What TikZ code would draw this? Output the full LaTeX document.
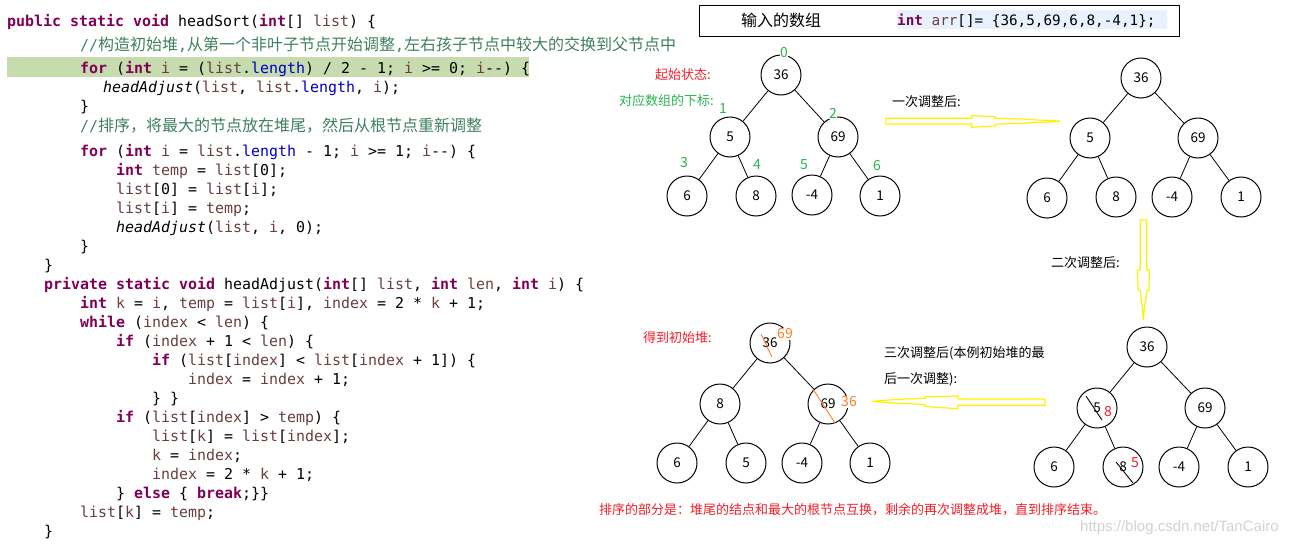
\documentclass[tikz,border=0pt]{standalone}
\usepackage{fontspec}
\setmonofont{DejaVu Sans Mono}
\newfontfamily\cjk{Noto Sans CJK SC}
\newfontfamily\wmfont{Liberation Sans}
\definecolor{kwc}{HTML}{7F0055}
\definecolor{varc}{HTML}{6A3E3E}
\definecolor{fldc}{HTML}{0000C0}
\definecolor{cmtc}{HTML}{3F7F5F}
\definecolor{hlg}{RGB}{198,219,174}
\definecolor{hlb}{HTML}{E8F2FE}
\definecolor{idxg}{RGB}{40,180,80}
\definecolor{redc}{RGB}{240,30,40}
\definecolor{orac}{RGB}{255,127,39}
\newcommand\ckw[1]{\textcolor{kwc}{\bfseries #1}}
\newcommand\cvr[1]{\textcolor{varc}{#1}}
\newcommand\cfd[1]{\textcolor{fldc}{#1}}
\newcommand\cz[1]{{\cjk\fontsize{16}{16}\selectfont #1}}
\begin{document}
\begin{tikzpicture}[x=1pt,y=-1pt,
  code/.style={anchor=base west, inner sep=0pt, font=\ttfamily\fontsize{14.95}{18}\selectfont},
  hc/.style={circle, draw, line width=1pt, minimum size=40pt, inner sep=0pt, font=\cjk\fontsize{13.5}{14}\selectfont},
  tedge/.style={line width=0.8pt},
  idx/.style={text=idxg, fill=white, inner sep=0.6pt, font=\cjk\fontsize{14}{14}\selectfont},
  lbl/.style={anchor=west, inner sep=0pt, font=\cjk\fontsize{13}{13}\selectfont},
  ovl/.style={fill=white, inner sep=0.8pt, font=\cjk\fontsize{14}{14}\selectfont},
  yarrow/.style={draw=yellow, line width=1.2pt, line join=miter},
  strike/.style={line width=0.9pt}
]
\useasboundingbox (0,0) rectangle (1300,546);

% ---------- code ----------
\fill[hlg] (7,57) rectangle (529,77);
\node[code] (l1) at (7,26) {\ckw{public static void} headSort(\ckw{int}[] \cvr{list}) \{};
\node[code] (l2) at (80,50) {\color{cmtc}//\cz{构造初始堆},\cz{从第一个非叶子节点开始调整},\cz{左右孩子节点中较大的交换到父节点中}};
\node[code] (l3) at (80,73) {\ckw{for} (\ckw{int} \cvr{i} = (\cvr{list}.\cfd{length}) / 2 - 1; \cvr{i} >= 0; \cvr{i}--) \{};
\node[code] (l4) at (103,92) {\textit{headAdjust}(\cvr{list}, \cvr{list}.\cfd{length}, \cvr{i});};
\node[code] (l5) at (80,111) {\}};
\node[code] (l6) at (80,131) {\color{cmtc}//\cz{排序，将最大的节点放在堆尾，然后从根节点重新调整}};
\node[code] (l7) at (80,156) {\ckw{for} (\ckw{int} \cvr{i} = \cvr{list}.\cfd{length} - 1; \cvr{i} >= 1; \cvr{i}--) \{};
\node[code] (l8) at (116,175) {\ckw{int} \cvr{temp} = \cvr{list}[0];};
\node[code] (l9) at (116,194) {\cvr{list}[0] = \cvr{list}[\cvr{i}];};
\node[code] (l10) at (116,213) {\cvr{list}[\cvr{i}] = \cvr{temp};};
\node[code] (l11) at (116,232) {\textit{headAdjust}(\cvr{list}, \cvr{i}, 0);};
\node[code] (l12) at (80,251) {\}};
\node[code] (l13) at (44,270) {\}};
\node[code] (l14) at (44,289) {\ckw{private static void} headAdjust(\ckw{int}[] \cvr{list}, \ckw{int} \cvr{len}, \ckw{int} \cvr{i}) \{};
\node[code] (l15) at (80,308) {\ckw{int} \cvr{k} = \cvr{i}, \cvr{temp} = \cvr{list}[\cvr{i}], \cvr{index} = 2 * \cvr{k} + 1;};
\node[code] (l16) at (80,327) {\ckw{while} (\cvr{index} < \cvr{len}) \{};
\node[code] (l17) at (116,346) {\ckw{if} (\cvr{index} + 1 < \cvr{len}) \{};
\node[code] (l18) at (152,365) {\ckw{if} (\cvr{list}[\cvr{index}] < \cvr{list}[\cvr{index} + 1]) \{};
\node[code] (l19) at (188,384) {\cvr{index} = \cvr{index} + 1;};
\node[code] (l20) at (152,403) {\} \}};
\node[code] (l21) at (116,422) {\ckw{if} (\cvr{list}[\cvr{index}] > \cvr{temp}) \{};
\node[code] (l22) at (152,441) {\cvr{list}[\cvr{k}] = \cvr{list}[\cvr{index}];};
\node[code] (l23) at (152,460) {\cvr{k} = \cvr{index};};
\node[code] (l24) at (152,479) {\cvr{index} = 2 * \cvr{k} + 1;};
\node[code] (l25) at (116,498) {\} \ckw{else} \{ \ckw{break};\}\}};
\node[code] (l26) at (80,517) {\cvr{list}[\cvr{k}] = \cvr{temp};};
\node[code] (l27) at (44,536) {\}};

% ---------- input box ----------
\node[draw, line width=1pt, minimum width=480pt, minimum height=31pt, anchor=north west, inner sep=0pt] (box) at (699,5) {};
\node[lbl, font=\cjk\fontsize{16}{16}\selectfont] (inlbl) at (741,20) {输入的数组};
\fill[hlb] (897,10) rectangle (1167,29);
\node[code, font=\ttfamily\fontsize{14.3}{17}\selectfont] (arr) at (897,25) {\ckw{int} \cvr{arr}[]= \{36,5,69,6,8,-4,1\};};

% ---------- labels ----------
\node[lbl, text=redc] (t1) at (655,75) {起始状态:};
\node[lbl, text=idxg] (t2) at (619,101) {对应数组的下标:};
\node[lbl] (t3) at (892,102) {一次调整后:};
\node[lbl] (t4) at (1051,263) {二次调整后:};
\node[lbl] (t5) at (884,353) {三次调整后(本例初始堆的最};
\node[lbl] (t6) at (884,379) {后一次调整):};
\node[lbl, text=redc] (t7) at (643,338) {得到初始堆:};
\node[lbl, text=redc] (t8) at (599,510) {排序的部分是：堆尾的结点和最大的根节点互换，剩余的再次调整成堆，直到排序结束。};
\node[anchor=west, inner sep=0pt, text=black!18, font=\wmfont\fontsize{15}{15}\selectfont] (wm) at (1080,528) {https://blog.csdn.net/TanCairo};

% ---------- tree A (start) ----------
\node[hc] (a0) at (781,75) {36};
\node[hc] (a1) at (730,137) {5};
\node[hc] (a2) at (838,137) {69};
\node[hc] (a3) at (687,196) {6};
\node[hc] (a4) at (756,196) {8};
\node[hc] (a5) at (812,195) {-4};
\node[hc] (a6) at (880,196) {1};
\draw[tedge] (a0) -- (a1);
\draw[tedge] (a0) -- (a2);
\draw[tedge] (a1) -- (a3);
\draw[tedge] (a1) -- (a4);
\draw[tedge] (a2) -- (a5);
\draw[tedge] (a2) -- (a6);
\node[idx] (i0) at (784,53) {0};
\node[idx] (i1) at (723,109) {1};
\node[idx] (i2) at (833,113) {2};
\node[idx] (i3) at (684,163) {3};
\node[idx] (i4) at (757,165) {4};
\node[idx] (i5) at (804,165) {5};
\node[idx] (i6) at (877,166) {6};

% ---------- tree B (first adjustment) ----------
\node[hc] (b0) at (1141,78) {36};
\node[hc] (b1) at (1090,138) {5};
\node[hc] (b2) at (1198,138) {69};
\node[hc] (b3) at (1047,198) {6};
\node[hc] (b4) at (1116,197) {8};
\node[hc] (b5) at (1172,197) {-4};
\node[hc] (b6) at (1241,197) {1};
\draw[tedge] (b0) -- (b1);
\draw[tedge] (b0) -- (b2);
\draw[tedge] (b1) -- (b3);
\draw[tedge] (b1) -- (b4);
\draw[tedge] (b2) -- (b5);
\draw[tedge] (b2) -- (b6);

% ---------- tree C (third adjustment) ----------
\node[hc] (c0) at (1147,347) {36};
\node[hc] (c1) at (1097,408) {5};
\node[hc] (c2) at (1205,408) {69};
\node[hc] (c3) at (1054,467) {6};
\node[hc] (c4) at (1123,467) {8};
\node[hc] (c5) at (1179,467) {-4};
\node[hc] (c6) at (1248,467) {1};
\draw[tedge] (c0) -- (c1);
\draw[tedge] (c0) -- (c2);
\draw[tedge] (c1) -- (c3);
\draw[tedge] (c1) -- (c4);
\draw[tedge] (c2) -- (c5);
\draw[tedge] (c2) -- (c6);
\coordinate (sc1a) at (1086,396); \coordinate (sc1b) at (1102,420);
\coordinate (sc4a) at (1116,462); \coordinate (sc4b) at (1133,483);
\draw[strike] (sc1a) -- (sc1b);
\draw[strike] (sc4a) -- (sc4b);
\node[ovl, text=redc] (oc1) at (1108,412) {8};
\node[ovl, text=redc] (oc4) at (1135,463) {5};

% ---------- tree D (initial heap) ----------
\node[hc] (d0) at (770,343) {36};
\node[hc] (d1) at (720,404) {8};
\node[hc] (d2) at (828,404) {69};
\node[hc] (d3) at (677,463) {6};
\node[hc] (d4) at (746,463) {5};
\node[hc] (d5) at (802,463) {-4};
\node[hc] (d6) at (870,463) {1};
\draw[tedge] (d0) -- (d1);
\draw[tedge] (d0) -- (d2);
\draw[tedge] (d1) -- (d3);
\draw[tedge] (d1) -- (d4);
\draw[tedge] (d2) -- (d5);
\draw[tedge] (d2) -- (d6);
\coordinate (sd0a) at (761,334); \coordinate (sd0b) at (772,357);
\coordinate (sd2a) at (813,389); \coordinate (sd2b) at (835,423);
\draw[strike, orac] (sd0a) -- (sd0b);
\draw[strike, orac] (sd2a) -- (sd2b);
\node[ovl, text=orac] (od0) at (785,334) {69};
\node[ovl, text=orac] (od2) at (849,402) {36};

% ---------- yellow hollow arrows ----------
\draw[yarrow] (886,118.3) -- (971.7,118.3) -- (971.7,115.7) -- (995,116.7) -- (995,118.3) -- (1023,119) -- (1037,120) -- (1053,120.6) -- (1060,121.2)
  -- (1053,121.8) -- (1037,122.4) -- (1023,123.3) -- (995,124.2) -- (995,126) -- (971.7,127.3) -- (971.7,124) -- (886,124) -- cycle;
\draw[yarrow] (1140.3,220) -- (1140.3,270) -- (1137.3,270) -- (1138.3,290) -- (1140,290) -- (1141,298) -- (1142.3,307) -- (1143.3,320)
  -- (1144.5,307) -- (1146,298) -- (1147.3,290) -- (1149,290) -- (1149.3,270) -- (1146.7,270) -- (1146.7,220) -- cycle;
\draw[yarrow] (1045,399) -- (958,399) -- (958,396) -- (925,396.7) -- (925,398.3) -- (898,399.3) -- (872,401.3)
  -- (898,403.3) -- (925,404.5) -- (925,406.5) -- (958,408.7) -- (958,405.3) -- (1045,405.3) -- cycle;
\end{tikzpicture}
\end{document}
